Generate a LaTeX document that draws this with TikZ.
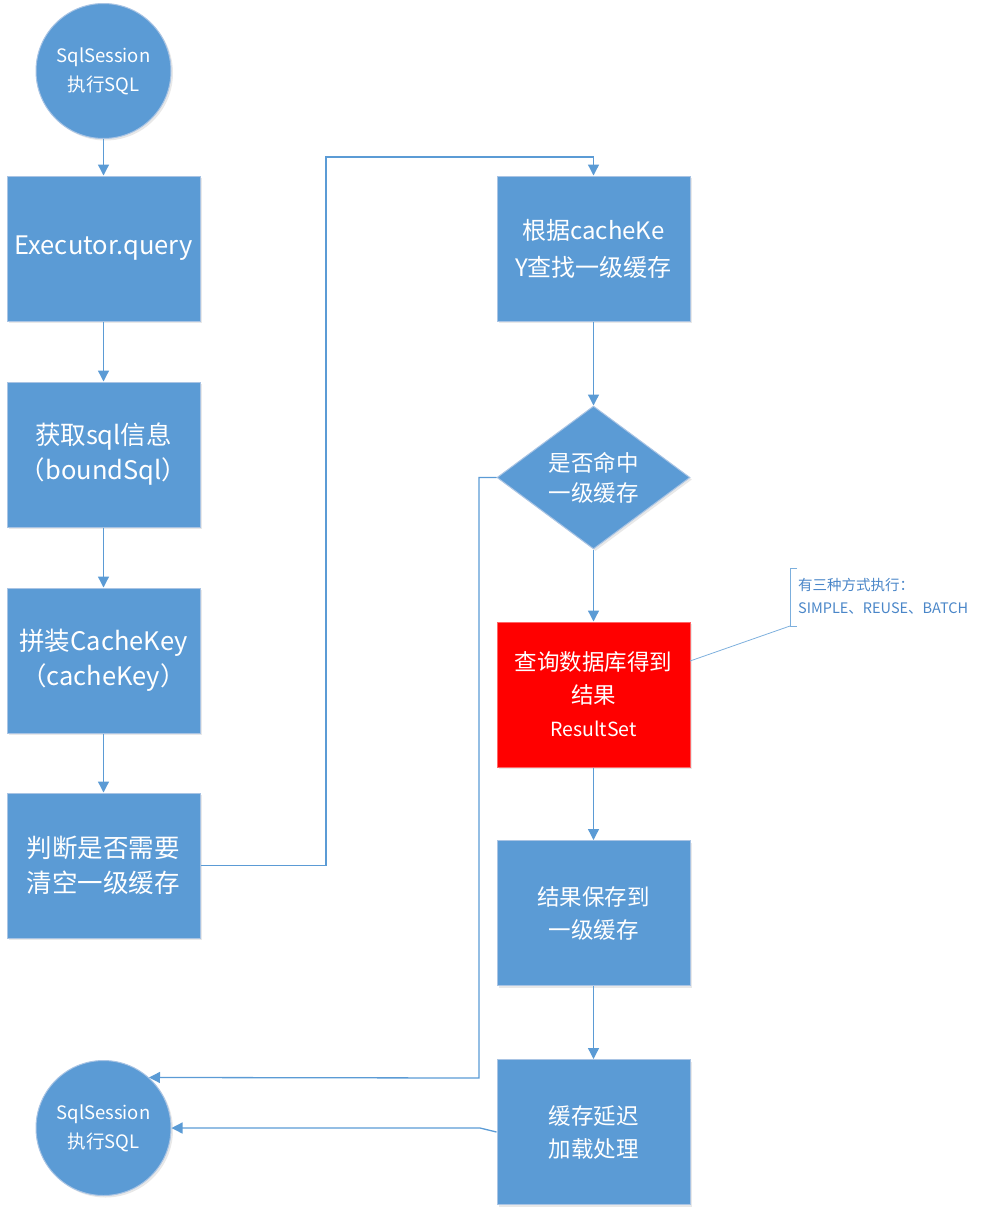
\documentclass[tikz,border=0pt]{standalone}
\usepackage{fontspec}
\setmainfont{Noto Sans CJK SC}
\usetikzlibrary{arrows.meta,shapes.geometric,shadows}
\definecolor{boxblue}{HTML}{5B9BD5}
\definecolor{edgeblue}{HTML}{A9C4E4}
\definecolor{lineblue}{HTML}{5B9BD5}
\definecolor{notetext}{HTML}{4A86C8}
\definecolor{redfill}{HTML}{FF0000}
\begin{document}
\begin{tikzpicture}[x=1pt,y=-1pt,
  base/.style={fill=boxblue,draw=edgeblue,line width=1pt,text=white,align=center,inner sep=0pt,
    drop shadow={opacity=0.18,shadow xshift=2pt,shadow yshift=-2pt}},
  bigbox/.style={base,rectangle,minimum width=193pt,minimum height=145pt,font=\fontsize{25.5}{35}\selectfont},
  tbox/.style={base,rectangle,minimum width=193pt,minimum height=145pt,font=\fontsize{24}{37}\selectfont},
  rbox/.style={base,rectangle,minimum width=193pt,minimum height=145pt,font=\fontsize{22.5}{33}\selectfont},
  ovalnode/.style={base,circle,minimum size=135pt,font=\fontsize{18.5}{29}\selectfont},
  decide/.style={base,diamond,minimum width=193pt,minimum height=143pt,font=\fontsize{22.5}{30}\selectfont},
  arr/.style={draw=lineblue,line width=1.3pt,-{Triangle[length=11pt,width=11pt]}},
  ln/.style={draw=lineblue,line width=1.2pt}]
\useasboundingbox (0,0) rectangle (985,1216);

% left column
\node[ovalnode] (s1) at (103.5,71) {SqlSession\\执行SQL};
\node[bigbox] (b1) at (103.5,248.5) {Executor.query};
\node[bigbox] (b2) at (103.5,454.5) {获取sql信息\\（boundSql）};
\node[bigbox] (b3) at (103.5,660.5) {拼装CacheKey\\（cacheKey）};
\node[bigbox] (b4) at (103.5,865.5) {判断是否需要\\清空一级缓存};
\node[ovalnode] (s2) at (103.5,1128) {SqlSession\\执行SQL};

% right column
\node[tbox] (r1) at (593.5,248.5) {根据cacheKe\\Y查找一级缓存};
\node[decide] (d1) at (593.5,477.5) {是否命中\\一级缓存};
\node[rbox,fill=redfill,draw=redfill!60!white] (r2) at (593.5,694.5) {查询数据库得到\\结果\\{\fontsize{19.5}{30}\selectfont ResultSet}};
\node[rbox] (r3) at (593.5,913) {结果保存到\\一级缓存};
\node[rbox] (r4) at (593.5,1132) {缓存延迟\\加载处理};

% connectors
\draw[arr] (s1) -- (b1);
\draw[arr] (b1) -- (b2);
\draw[arr] (b2) -- (b3);
\draw[arr] (b3) -- (b4);
\coordinate (c1) at (326,157);
\draw[arr] (b4.east) -| (c1) -| (r1.north);
\draw[arr] (r1) -- (d1);
\draw[arr] (d1) -- (r2);
\draw[arr] (r2) -- (r3);
\draw[arr] (r3) -- (r4);
\coordinate (c2) at (479,1078);
\draw[arr] (d1.west) -| (c2) -- (s2.48);
\coordinate (c3) at (480,1128);
\draw[arr] (r4.west) -- (c3) -- (s2.east);

% annotation
\coordinate (a0) at (690,661);
\coordinate (a1) at (790,626);
\coordinate (a2) at (790,568);
\draw[draw=lineblue!80!white,line width=0.8pt] (a0) -- (a1);
\draw[draw=lineblue!80!white,line width=0.8pt] (797,568) -- (a2) -- (a1) -- (797,626);
\node[anchor=west,text=notetext,align=left,inner sep=0pt,font=\fontsize{14.5}{23}\selectfont] (note) at (798,596.5) {有三种方式执行：\\SIMPLE、REUSE、BATCH};
\end{tikzpicture}
\end{document}
